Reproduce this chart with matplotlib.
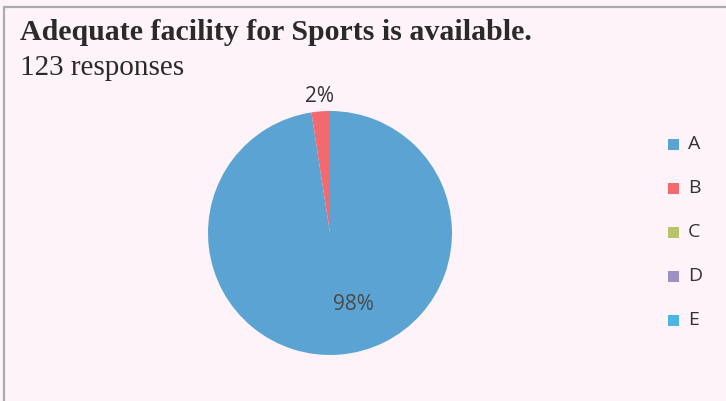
import numpy as np
import matplotlib.pyplot as plt
from matplotlib.patches import Rectangle

# response counts per option
options = ['A', 'B', 'C', 'D', 'E']
counts = [120, 3, 0, 0, 0]
colors = ['#5ba3d3', '#f26a6e', '#b8c46c', '#9d90c2', '#4bb4e2']

title = 'Adequate facility for Sports is available.'
subtitle = '123 responses'

bg = '#fdf3f8'

fig = plt.figure(figsize=(7.26, 4.01), dpi=100, facecolor=bg)

# frame round the card
fig.add_artist(Rectangle((4 / 726, -0.01), 1.2, 1 - 7 / 401 + 0.01,
                         transform=fig.transFigure, fill=False,
                         edgecolor='#ababab', linewidth=1.6))

fig.text(20 / 726, 1 - 40 / 401, title, family='Liberation Serif',
         weight='bold', fontsize=21.5, color='#2a2a2a')
fig.text(20 / 726, 1 - 75 / 401, subtitle, family='Liberation Serif',
         fontsize=21, color='#2a2a2a')

# pie centred at (330, 233) px with radius ~122 px
r = 122
cx, cy = 330, 233
ax = fig.add_axes([(cx - r) / 726, 1 - (cy + r) / 401, 2 * r / 726, 2 * r / 401])
ax.set_facecolor(bg)

total = sum(counts)
nz = [i for i, c in enumerate(counts) if c > 0]
wedges, _ = ax.pie([counts[i] for i in nz], colors=[colors[i] for i in nz],
                   startangle=90, counterclock=False, radius=1,
                   wedgeprops=dict(linewidth=0))
ax.set_xlim(-1, 1)
ax.set_ylim(-1, 1)
ax.set_aspect('auto')

# percentage labels: large slice inside, small slice outside
for w, i in zip(wedges, nz):
    pct = round(counts[i] / total * 100)
    if pct > 50:
        ang, dist = np.deg2rad(-71.6), 0.62
    else:
        ang, dist = np.deg2rad((w.theta1 + w.theta2) / 2), 1.12
    ax.text(dist * np.cos(ang), dist * np.sin(ang), f'{pct}%',
            ha='center', va='center', family='Open Sans', fontsize=15,
            color='#4a4a4a' if pct > 50 else '#333333', clip_on=False)
ax.axis('off')

# legend
for k, (name, col) in enumerate(zip(options, colors)):
    y = 1 - (144 + 44 * k) / 401
    fig.add_artist(Rectangle((668 / 726, y - 5.5 / 401), 11 / 726, 11 / 401,
                             transform=fig.transFigure, facecolor=col,
                             edgecolor='none'))
    fig.text(688 / 726, y, name, va='center', family='Open Sans',
             fontsize=14, color='#333333')

fig.savefig('out.png', dpi=100, facecolor=bg)
